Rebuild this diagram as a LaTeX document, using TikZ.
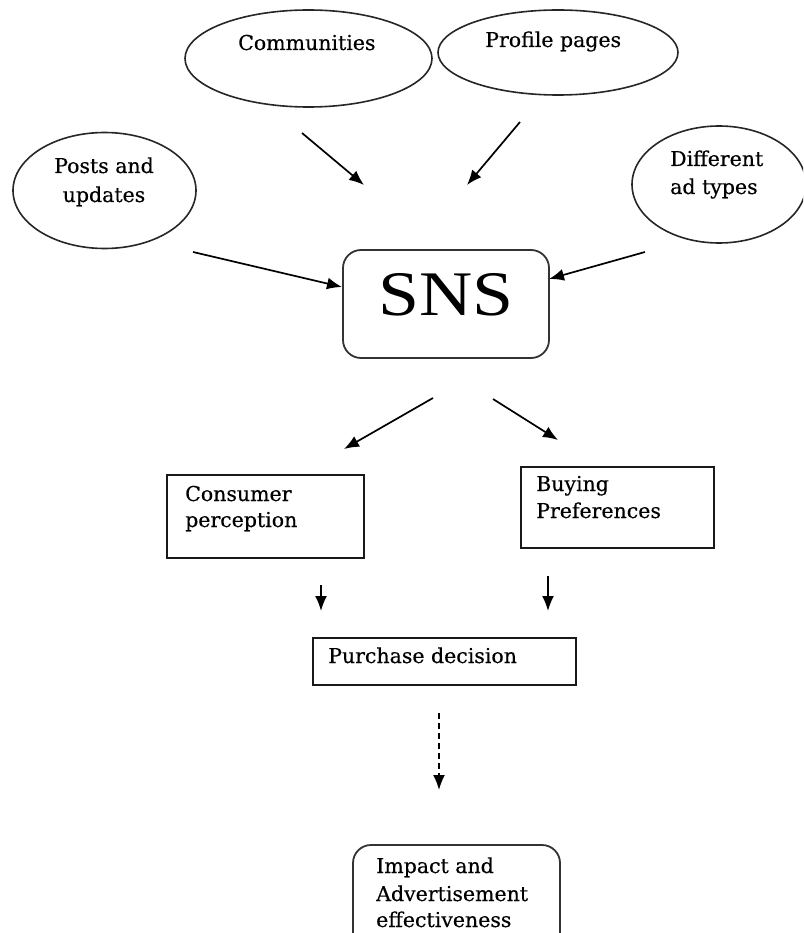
\documentclass[tikz,border=0pt]{standalone}
\usepackage{fontspec}
\usepackage{graphicx}
\setmainfont{DejaVu Serif}[FakeBold=0.4]
\newfontfamily\snsfont{Liberation Serif}
\usetikzlibrary{shapes.geometric,arrows.meta}
\begin{document}
\begin{tikzpicture}[x=1pt,y=-1pt,
  ell/.style={draw=black!85,line width=1.6pt,ellipse,inner sep=0pt},
  boxA/.style={draw=black!90,line width=2pt,rectangle,inner sep=0pt},
  rbox/.style={draw=black!80,line width=1.8pt,rectangle,rounded corners=18pt,inner sep=0pt},
  txt/.style={inner sep=0pt,anchor=base west,font=\fontsize{20.5}{26}\selectfont},
  ctxt/.style={inner sep=0pt,anchor=base,font=\fontsize{20.5}{26}\selectfont},
  arr/.style={line width=1.7pt,-{Latex[length=15pt,width=12pt]}},
]
\useasboundingbox (0,0) rectangle (803,933);
\clip (0,0) rectangle (803,933);

% ellipses
\node[ell,minimum width=247pt,minimum height=97pt] (comm) at (308.5,58.5) {};
\node[ell,minimum width=240pt,minimum height=85pt] (prof) at (558,52.5) {};
\node[ell,minimum width=183pt,minimum height=116pt] (posts) at (104.5,190.5) {};
\node[ell,minimum width=174pt,minimum height=117pt] (diff) at (719,184.5) {};

\node[txt] (commT) at (238,50) {Communities};
\node[txt] (profT) at (485,47) {Profile pages};
\node[ctxt] (postsT1) at (104,173) {Posts and};
\node[ctxt] (postsT2) at (104,202) {updates};
\node[txt] (diffT1) at (670,166) {Different};
\node[txt] (diffT2) at (670,194) {ad types};

% SNS
\node[rbox,minimum width=206pt,minimum height=108pt] (sns) at (446,304) {};
\node[inner sep=0pt,anchor=base,font=\snsfont\fontsize{63.5}{70}\selectfont] (snsT) at (446,315) {\scalebox{1.16}[1]{SNS}};

% boxes
\node[boxA,minimum width=197pt,minimum height=83pt] (cons) at (265.5,516.5) {};
\node[txt] (consT1) at (185,501) {Consumer};
\node[txt] (consT2) at (185,527) {perception};

\node[boxA,minimum width=193pt,minimum height=81pt] (buy) at (617.5,507.5) {};
\node[txt] (buyT1) at (536,491) {Buying};
\node[txt] (buyT2) at (536,518) {Preferences};

\node[boxA,minimum width=263pt,minimum height=47pt] (purch) at (444.5,661.5) {};
\node[txt] (purchT) at (328,663) {Purchase decision};

\node[rbox,minimum width=207pt,minimum height=130pt] (imp) at (456.5,910) {};
\node[txt] (impT1) at (376,873) {Impact and};
\node[txt] (impT2) at (376,901) {Advertisement};
\node[txt] (impT3) at (376,927) {effectiveness};

% arrow end points
\coordinate (a1s) at (302,133); \coordinate (a1e) at (364,185);
\coordinate (a2s) at (520,122); \coordinate (a2e) at (467,185);
\coordinate (a3s) at (193,252); \coordinate (a3e) at (342,287);
\coordinate (a4s) at (645,252); \coordinate (a4e) at (549,279);
\coordinate (a5s) at (433,398); \coordinate (a5e) at (344,449);
\coordinate (a6s) at (493,399); \coordinate (a6e) at (558,440);
\coordinate (a7s) at (321,585); \coordinate (a7e) at (321,611);
\coordinate (a8s) at (548,576); \coordinate (a8e) at (548,611);
\coordinate (a9s) at (439,713); \coordinate (a9e) at (439,790);

\draw[arr] (a1s) -- (a1e);
\draw[arr] (a2s) -- (a2e);
\draw[arr] (a3s) -- (a3e);
\draw[arr] (a4s) -- (a4e);
\draw[arr] (a5s) -- (a5e);
\draw[arr] (a6s) -- (a6e);
\draw[arr] (a7s) -- (a7e);
\draw[arr] (a8s) -- (a8e);
\draw[arr,dash pattern=on 6pt off 4pt] (a9s) -- (a9e);
\end{tikzpicture}
\end{document}
